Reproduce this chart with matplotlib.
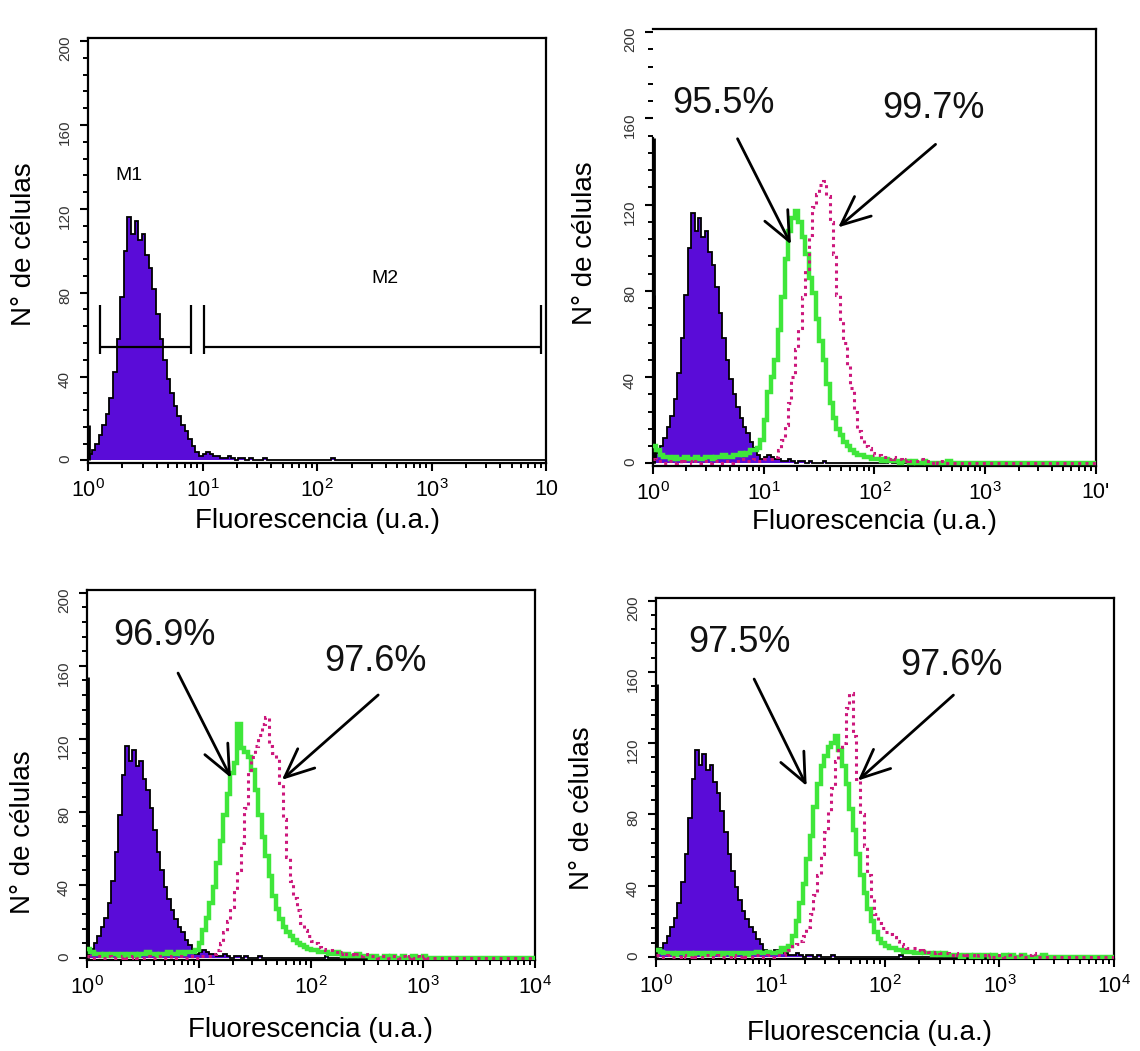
import numpy as np
import matplotlib
matplotlib.use("Agg")
import matplotlib.pyplot as plt
from matplotlib.ticker import FixedLocator, LogLocator, MultipleLocator, NullFormatter

plt.rcParams['font.family'] = ['Liberation Sans', 'DejaVu Sans']
plt.rcParams['mathtext.fontset'] = 'custom'
plt.rcParams['mathtext.rm'] = 'Liberation Sans'
plt.rcParams['mathtext.it'] = 'Liberation Sans'

# 128 log channels, 1/32 decade each, 10^0 .. 10^4
n_chan = 128
edges = np.logspace(0, 4, n_chan + 1)

# unstained control (same in all four panels), counts per channel from ch0
ctrl = [3, 5, 8, 12, 17, 22, 30, 42, 58, 78, 100, 116, 108, 114, 105, 108,
        98, 92, 82, 70, 58, 48, 39, 32, 26, 21, 17, 14, 10, 7, 4, 2,
        3, 4, 3, 2, 2, 1, 1, 2, 1, 0, 1, 1, 0, 1, 0, 0, 0, 1,
        0, 0, 0, 0, 0, 0, 0, 0, 0, 0, 0, 0, 0, 0, 0, 0, 0, 0, 1]

# panel B
green_b = [8, 6, 4, 3, 3, 2, 3, 2, 2, 3, 2, 2, 3, 2, 2, 3, 3, 2, 3, 3,
           4, 3, 3, 4, 4, 5, 4, 5, 6, 6, 7, 11, 20, 33, 40, 48, 62, 77, 95, 108,
           114, 117, 112, 105, 97, 86, 79, 67, 57, 48, 37, 28, 21, 16, 13, 10, 8, 6, 5, 4,
           4, 3, 3, 2, 2, 2, 1, 2, 1, 1, 1, 0, 1, 1, 0, 1, 0, 0, 1, 0,
           0, 0, 0, 0, 0, 1]
magenta_b = [2, 1, 1, 0, 1, 1, 0, 1, 0, 1, 1, 0, 1, 0, 1, 1, 0, 1, 1, 0,
             1, 1, 0, 1, 1, 1, 2, 1, 1, 2, 1, 1, 2, 2, 2, 3, 6, 11, 18, 28,
             40, 53, 63, 77, 90, 106, 119, 125, 129, 131, 124, 112, 97, 78, 66, 56, 45, 35, 24, 15,
             11, 8, 7, 5, 4, 4, 3, 3, 2, 3, 2, 2, 1, 2, 1, 1, 1, 2, 1, 1,
             0, 1, 0, 1]

# panel C
green_c = [5, 3, 2, 2, 1, 2, 1, 2, 2, 1, 2, 1, 2, 2, 1, 2, 2, 3, 2, 2,
           1, 2, 2, 3, 2, 2, 3, 2, 3, 3, 3, 4, 8, 15, 22, 30, 39, 52, 64, 78,
           90, 101, 107, 128, 115, 113, 110, 103, 92, 78, 66, 56, 45, 34, 27, 21, 17, 14, 12, 10,
           8, 7, 6, 5, 4, 4, 3, 3, 3, 2, 2, 3, 2, 1, 2, 1, 1, 2, 1, 1,
           1, 0, 1, 0, 0, 1, 0, 1, 0, 0, 1, 0, 0, 1, 0, 0, 1]
magenta_c = [1, 0, 0, 1, 0, 0, 1, 0, 0, 0, 1, 0, 0, 1, 0, 0, 0, 1, 0, 0,
             1, 0, 0, 0, 1, 0, 0, 1, 0, 0, 1, 0, 1, 1, 1, 1, 2, 4, 8, 14,
             20, 28, 37, 48, 63, 82, 102, 110, 116, 122, 128, 132, 116, 112, 109, 96, 76, 55, 42, 33,
             26, 19, 15, 12, 9, 8, 6, 5, 4, 4, 3, 3, 2, 3, 2, 2, 1, 2, 1, 2,
             1, 1, 1, 0, 1, 1, 0, 1, 1, 0, 1, 0, 1, 0, 1, 0, 1]

# panel D
green_d = [4, 3, 2, 2, 2, 1, 2, 2, 1, 2, 1, 2, 2, 1, 2, 1, 2, 2, 1, 2,
           2, 1, 2, 2, 2, 1, 2, 2, 3, 2, 2, 3, 2, 2, 3, 5, 4, 6, 12, 20,
           30, 41, 55, 68, 84, 97, 107, 113, 118, 120, 124, 116, 107, 97, 83, 71, 58, 46, 36, 27,
           20, 14, 10, 8, 6, 5, 5, 4, 4, 3, 3, 3, 2, 2, 3, 2, 2, 1, 2, 1,
           2, 1, 1, 1, 1, 0, 1, 1, 0, 1, 0, 1, 1, 0, 1, 0, 0, 1, 0, 1,
           0, 0, 1, 0, 0, 0, 0, 0, 1]
magenta_d = [1, 0, 0, 1, 0, 0, 0, 1, 0, 0, 1, 0, 0, 0, 1, 0, 0, 1, 0, 0,
             0, 1, 0, 0, 1, 0, 0, 0, 1, 0, 0, 1, 0, 1, 1, 1, 2, 4, 6, 7,
             9, 12, 17, 24, 35, 46, 58, 70, 82, 95, 110, 116, 120, 140, 148, 124, 100, 80, 62, 46,
             33, 24, 19, 16, 14, 13, 11, 9, 7, 6, 5, 5, 5, 4, 3, 4, 3, 2, 3, 2,
             2, 2, 1, 2, 1, 1, 2, 1, 1, 0, 1, 1, 0, 1, 0, 0, 1, 0, 1, 0,
             0, 1, 0, 0, 1, 2]

# off-scale-low events piled in the first channel
spikes_a = [17]
spikes_b = [151, 78]
spikes_c = [154, 79]
spikes_d = [153]

# M1 / M2 gates (panel A)
gate_m1 = (1.27, 8.0)
gate_m2 = (10.3, 9000.0)
gate_y = 54

pct_b = ['95.5%', '99.7%']
pct_c = ['96.9%', '97.6%']
pct_d = ['97.5%', '97.6%']

x_ticks = [1, 10, 100, 1000, 10000]
y_ticks = [0, 40, 80, 120, 160, 200]

purple = '#5a0cd8'
green_col = '#3fe63a'
mag_col = '#cc177c'


def pad(vals):
    out = np.zeros(n_chan)
    out[:len(vals)] = vals
    return out


def style_axes(ax, last_label):
    ax.set_xscale('log')
    ax.set_xlim(1, 1e4)
    ax.set_ylim(-1.2, 201.5)
    ax.xaxis.set_major_locator(FixedLocator(x_ticks))
    ax.xaxis.set_minor_locator(LogLocator(base=10, subs=np.arange(2, 10)))
    ax.xaxis.set_minor_formatter(NullFormatter())
    ax.set_xticklabels(['$10^{0}$', '$10^{1}$', '$10^{2}$', '$10^{3}$', last_label])
    ax.yaxis.set_major_locator(FixedLocator(y_ticks))
    ax.yaxis.set_minor_locator(MultipleLocator(8))
    ax.tick_params(axis='both', which='major', direction='out', length=5.5, width=1.5)
    ax.tick_params(axis='both', which='minor', direction='out', length=3.5, width=1.4)
    ax.tick_params(axis='x', labelsize=15.5, pad=6)
    ax.tick_params(axis='y', labelsize=11, labelrotation=90, pad=6, labelcolor='#333333')
    for sp in ax.spines.values():
        sp.set_linewidth(1.6)
    ax.set_xlabel('Fluorescencia (u.a.)', fontsize=20)
    ax.set_ylabel('N° de células', fontsize=20)


def draw_hist(ax, spikes, green=None, magenta=None):
    c = pad(ctrl)
    ax.stairs(c, edges, fill=True, color=purple, baseline=0, zorder=2)
    ax.stairs(c, edges, color='black', lw=1.3, baseline=0, zorder=3)
    ax.vlines(np.full(len(spikes), 1.03), 0, spikes, color='black', lw=2.0, zorder=3)
    if green is not None:
        ax.stairs(pad(green), edges, color=green_col, lw=3.2, baseline=None, zorder=4)
    if magenta is not None:
        ax.stairs(pad(magenta), edges, color=mag_col, lw=2.2, ls=(0, (1, 1.4)),
                  baseline=None, zorder=5)


def label_peaks(ax, texts, text_pos, arrows):
    for t, (x, y) in zip(texts, text_pos):
        ax.text(x, y, t, fontsize=26, ha='left', va='baseline', color='#111111', zorder=6)
    for (x0, y0), (x1, y1) in arrows:
        ax.annotate('', xy=(x1, y1), xytext=(x0, y0),
                    arrowprops=dict(arrowstyle='->,head_length=0.95,head_width=0.42',
                                    lw=2.0, color='black', shrinkA=0, shrinkB=0,
                                    mutation_scale=22), zorder=6)


fig = plt.figure(figsize=(11.4, 10.51), dpi=100)
ax_a = fig.add_axes([0.0772, 0.5595, 0.4018, 0.4044])
ax_b = fig.add_axes([0.5728, 0.5566, 0.3886, 0.4158])
ax_c = fig.add_axes([0.0763, 0.0866, 0.3930, 0.3520])
ax_d = fig.add_axes([0.5754, 0.0875, 0.4018, 0.3435])

# A: control with gates
draw_hist(ax_a, spikes_a)
ax_a.hlines(gate_y, gate_m1[0], gate_m1[1], color='black', lw=1.6, zorder=4)
ax_a.hlines(gate_y, gate_m2[0], gate_m2[1], color='black', lw=1.6, zorder=4)
ax_a.vlines(list(gate_m1) + list(gate_m2), gate_y - 3, gate_y + 20,
            color='black', lw=1.6, zorder=4)
ax_a.text(2.27, 136, 'M1', fontsize=14, ha='center', va='center')
ax_a.text(392, 87, 'M2', fontsize=14, ha='center', va='center')
style_axes(ax_a, '10')

# B
draw_hist(ax_b, spikes_b, green_b, magenta_b)
label_peaks(ax_b, pct_b, [(1.48, 162.6), (118, 160)],
            [((5.8, 150.6), (17.6, 101.6)), ((356, 148), (47, 109.5))])
style_axes(ax_b, "10'")
ax_b.spines['left'].set_bounds(-1.2, 151)

# C
draw_hist(ax_c, spikes_c, green_c, magenta_c)
label_peaks(ax_c, pct_c, [(1.71, 171.5), (131, 157)],
            [((6.5, 156), (19.3, 98.6)), ((398, 144), (55, 97.5))])
style_axes(ax_c, '$10^{4}$')

# D
draw_hist(ax_d, spikes_d, green_d, magenta_d)
label_peaks(ax_d, pct_d, [(1.91, 171), (135, 158.5)],
            [((7.2, 156), (20.7, 96)), ((396, 147), (58, 99))])
style_axes(ax_d, '$10^{4}$')

# axis-label placement
ax_a.yaxis.set_label_coords(-0.111, 0.515)
ax_b.yaxis.set_label_coords(-0.124, 0.51)
ax_c.yaxis.set_label_coords(-0.114, 0.346)
ax_d.yaxis.set_label_coords(-0.133, 0.418)
ax_a.xaxis.set_label_coords(0.5, -0.106)
ax_b.xaxis.set_label_coords(0.5, -0.098)
ax_c.xaxis.set_label_coords(0.5, -0.154)
ax_d.xaxis.set_label_coords(0.467, -0.169)

fig.savefig('out.png', dpi=100, facecolor='white')
